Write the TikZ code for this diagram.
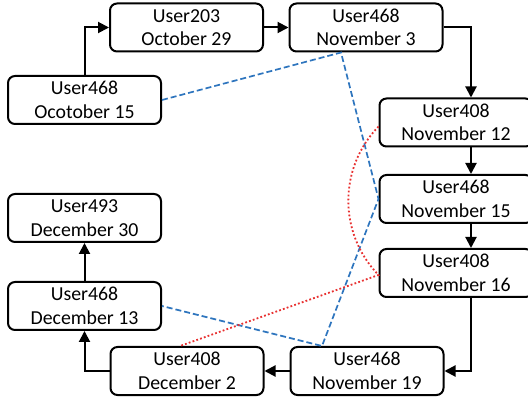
\documentclass[tikz,border=0pt]{standalone}
\usepackage{fontspec}
\setmainfont{Carlito}
\usetikzlibrary{arrows.meta}
\definecolor{bl}{RGB}{46,117,190}
\definecolor{rd}{RGB}{232,48,48}
\begin{document}
\begin{tikzpicture}[x=1pt,y=-1pt,
  box/.style={draw,line width=2pt,rounded corners=7pt,minimum width=153pt,minimum height=48pt,inner sep=0pt,align=center,font=\fontsize{19.8}{23.5}\selectfont},
  arr/.style={line width=2pt,-{Triangle[length=11pt,width=11pt]}},
  bd/.style={bl,line width=1.7pt,dash pattern=on 6pt off 3pt},
  rdot/.style={rd,line width=1.8pt,dash pattern=on 1.8pt off 2.2pt}]
\useasboundingbox (0,0) rectangle (528,398);
\clip (0,0) rectangle (528,398);
\node[box] (oct15) at (84.5,100) {User468\\Ocotober 15};
\node[box] (oct29) at (186.5,27.5) {User203\\October 29};
\node[box] (nov3) at (366,27.5) {User468\\November 3};
\node[box] (nov12) at (456,122.5) {User408\\November 12};
\node[box] (nov15) at (456,199) {User468\\November 15};
\node[box] (nov16) at (456,273) {User408\\November 16};
\node[box] (nov19) at (367,371) {User468\\November 19};
\node[box] (dec2) at (187,371) {User408\\December 2};
\node[box] (dec13) at (84.5,306) {User468\\December 13};
\node[box] (dec30) at (84.5,218) {User493\\December 30};
\draw[bd] (oct15.east) -- ([xshift=-25pt]nov3.south) -- (nov15.west) -- ([xshift=-45pt]nov19.north) -- (dec13.east);
\draw[rdot] ([yshift=-4pt]nov12.west) to[bend right=44] ([yshift=-2pt]nov16.west) -- ([xshift=-7pt]dec2.north);
\draw[arr] (oct15.north) |- (oct29.west);
\draw[arr] (oct29.east) -- (nov3.west);
\draw[arr] (nov3.east) -| ([xshift=15pt]nov12.north);
\draw[arr] ([xshift=15pt]nov12.south) -- ([xshift=15pt]nov15.north);
\draw[arr] ([xshift=15pt]nov15.south) -- ([xshift=15pt]nov16.north);
\draw[arr] ([xshift=15pt]nov16.south) |- (nov19.east);
\draw[arr] (nov19.west) -- (dec2.east);
\draw[arr] (dec2.west) -| (dec13.south);
\draw[arr] (dec13.north) -- (dec30.south);
\end{tikzpicture}
\end{document}
